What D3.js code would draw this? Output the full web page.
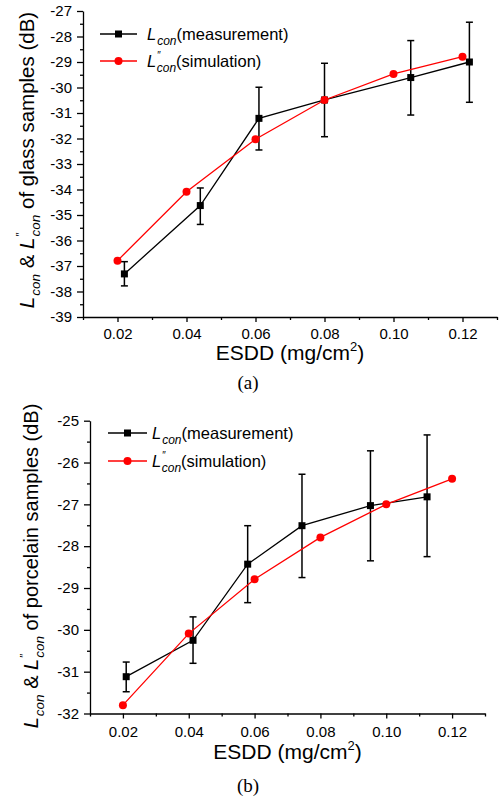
<!DOCTYPE html>
<html lang="en">
<head>
  <meta charset="UTF-8">
  <title>Lcon vs ESDD</title>
  <script src="https://d3js.org/d3.v7.min.js"></script>
  <style>
    body { margin: 0; background: #fff; }
    svg { display: block; font-family: Arial, "Liberation Sans", sans-serif; }
    .axis path, .axis line { stroke: #000; stroke-width: 1.3; }
    .axis text { font-size: 15px; fill: #000; font-family: Arial, "Liberation Sans", sans-serif; }
  </style>
</head>
<body>
  <svg width="501" height="798"></svg>

  <script>
    // (a) glass samples
    const glassMeasX  = [0.022, 0.044, 0.061, 0.080, 0.105, 0.122];
    const glassMeasY  = [-37.31, -34.63, -31.21, -30.49, -29.61, -29.00];
    const glassMeasLo = [-37.78, -35.37, -32.45, -31.93, -31.08, -30.58];
    const glassMeasHi = [-36.83, -33.94, -29.99, -29.05, -28.16, -27.44];
    const glassSimX   = [0.02, 0.04, 0.06, 0.08, 0.10, 0.12];
    const glassSimY   = [-36.79, -34.09, -32.03, -30.49, -29.47, -28.79];

    // (b) porcelain samples
    const porcMeasX  = [0.021, 0.0413, 0.0579, 0.0744, 0.0952, 0.1124];
    const porcMeasY  = [-31.12, -30.25, -28.43, -27.51, -27.03, -26.82];
    const porcMeasLo = [-31.48, -30.80, -29.35, -28.75, -28.35, -28.25];
    const porcMeasHi = [-30.77, -29.69, -27.51, -26.28, -25.72, -25.34];
    const porcSimX   = [0.02, 0.04, 0.06, 0.08, 0.10, 0.12];
    const porcSimY   = [-31.80, -30.09, -28.79, -27.79, -27.00, -26.39];

    const xTicks = [0.02, 0.04, 0.06, 0.08, 0.10, 0.12];
    const xMinor = [0.01, 0.03, 0.05, 0.07, 0.09, 0.11, 0.13];
    const glassYTicks = d3.range(-39, -26.5, 1);
    const porcYTicks = d3.range(-32, -24.5, 1);

    const svg = d3.select("svg");

    const panels = [
      {
        box: {left: 83, right: 497, top: 11, bottom: 317}, xPad: 6.5,
        yDomain: [-39, -27], yTicks: glassYTicks,
        mx: glassMeasX, my: glassMeasY, lo: glassMeasLo, hi: glassMeasHi,
        sx: glassSimX, sy: glassSimY,
        yLabel: "of glass samples (dB)", yLabelPos: [34, 160], yLabelSize: 20.5,
        legend: {x0: 100, x1: 137, tx: 147, y1: 40, y2: 67},
        title: 360, caption: "(a)", capY: 389
      },
      {
        box: {left: 90, right: 485, top: 420.7, bottom: 713.5}, xPad: 7.5,
        yDomain: [-32, -25], yTicks: porcYTicks,
        mx: porcMeasX, my: porcMeasY, lo: porcMeasLo, hi: porcMeasHi,
        sx: porcSimX, sy: porcSimY,
        yLabel: "of porcelain samples (dB)", yLabelPos: [38, 566], yLabelSize: 20,
        legend: {x0: 108, x1: 147, tx: 152, y1: 439, y2: 467},
        title: 759, caption: "(b)", capY: 792
      }
    ];

    // L_con / L''_con with sub/superscripts
    function lcon(text, prime, small, shift) {
      text.append("tspan").attr("font-style", "italic").text("L");
      if (prime) {
        text.append("tspan").attr("font-size", small - 2).attr("dx", 1).attr("dy", -shift * 1.6).text("″");
        text.append("tspan").attr("font-size", small).attr("font-style", "italic")
          .attr("dx", -4).attr("dy", shift * 2.6).text("con");
      } else {
        text.append("tspan").attr("font-size", small).attr("font-style", "italic")
          .attr("dx", 1).attr("dy", shift).text("con");
      }
      return text;
    }

    panels.forEach(p => {
      const b = p.box;
      const x = d3.scaleLinear().domain([0.01, 0.13]).range([b.left, b.right]);
      const y = d3.scaleLinear().domain(p.yDomain).range([b.bottom, b.top]);
      const g = svg.append("g");

      // axes
      g.append("g").attr("class", "axis")
        .attr("transform", `translate(0,${b.bottom})`)
        .call(d3.axisBottom(x).tickValues(xTicks).tickFormat(d3.format(".2f"))
          .tickSize(5).tickSizeOuter(0).tickPadding(p.xPad));
      g.append("g").attr("class", "axis")
        .attr("transform", `translate(0,${b.bottom})`)
        .call(d3.axisBottom(x).tickValues(xMinor).tickFormat("").tickSize(3).tickSizeOuter(0))
        .select(".domain").remove();
      g.append("g").attr("class", "axis")
        .attr("transform", `translate(${b.left},0)`)
        .call(d3.axisLeft(y).tickValues(p.yTicks).tickFormat(d3.format("d"))
          .tickSize(6).tickSizeOuter(0).tickPadding(5));
      g.append("g").attr("class", "axis")
        .attr("transform", `translate(${b.left},0)`)
        .call(d3.axisLeft(y).tickValues(p.yTicks.slice(1).map(v => v - 0.5)).tickFormat("").tickSize(3).tickSizeOuter(0))
        .select(".domain").remove();
      g.selectAll(".axis text").text(function() { return this.textContent.replace("−", "-"); });

      // measurement: error bars, line, squares
      const meas = p.mx.map((v, i) => ({x: v, y: p.my[i], lo: p.lo[i], hi: p.hi[i]}));
      const sim = p.sx.map((v, i) => ({x: v, y: p.sy[i]}));
      const line = d3.line().x(d => x(d.x)).y(d => y(d.y));

      const eb = g.append("g").attr("stroke", "#000").attr("stroke-width", 1.5);
      meas.forEach(d => {
        eb.append("line").attr("x1", x(d.x)).attr("x2", x(d.x)).attr("y1", y(d.lo)).attr("y2", y(d.hi));
        [d.lo, d.hi].forEach(v => eb.append("line")
          .attr("x1", x(d.x) - 3.5).attr("x2", x(d.x) + 3.5).attr("y1", y(v)).attr("y2", y(v)));
      });
      g.append("path").datum(meas).attr("d", line)
        .attr("fill", "none").attr("stroke", "#000").attr("stroke-width", 1.3);
      g.selectAll(".sq").data(meas).join("rect")
        .attr("x", d => x(d.x) - 3.5).attr("y", d => y(d.y) - 3.5)
        .attr("width", 7).attr("height", 7).attr("fill", "#000");

      // simulation
      g.append("path").datum(sim).attr("d", line)
        .attr("fill", "none").attr("stroke", "#ff0000").attr("stroke-width", 1.3);
      g.selectAll(".dot").data(sim).join("circle")
        .attr("cx", d => x(d.x)).attr("cy", d => y(d.y)).attr("r", 4).attr("fill", "#ff0000");

      // legend
      const L = p.legend;
      [[L.y1, "#000", "sq", false, "(measurement)"], [L.y2, "#ff0000", "dot", true, "(simulation)"]].forEach(([ty, col, mk, prime, txt]) => {
        const cy = ty - 6;
        g.append("line").attr("x1", L.x0).attr("x2", L.x1).attr("y1", cy).attr("y2", cy)
          .attr("stroke", col).attr("stroke-width", 1.3);
        const mxp = (L.x0 + L.x1) / 2;
        if (mk === "sq") g.append("rect").attr("x", mxp - 3.5).attr("y", cy - 3.5).attr("width", 7).attr("height", 7).attr("fill", col);
        else g.append("circle").attr("cx", mxp).attr("cy", cy).attr("r", 4).attr("fill", col);
        const t = g.append("text").attr("x", L.tx).attr("y", ty).attr("font-size", 16.5).attr("fill", "#000");
        lcon(t, prime, 12, 5);
        t.append("tspan").attr("dy", -5).text(txt);
      });

      // y label
      const yl = g.append("text")
        .attr("transform", `translate(${p.yLabelPos[0]},${p.yLabelPos[1]}) rotate(-90)`)
        .attr("text-anchor", "middle").attr("font-size", p.yLabelSize).attr("fill", "#000");
      lcon(yl, false, 13.5, 6);
      yl.append("tspan").attr("dy", -6).text(" & ");
      lcon(yl, true, 13.5, 6);
      yl.append("tspan").attr("dy", -6).text(" " + p.yLabel);

      // x title
      const xt = g.append("text").attr("x", (b.left + b.right) / 2).attr("y", p.title)
        .attr("text-anchor", "middle").attr("font-size", 21).attr("fill", "#000");
      xt.append("tspan").text("ESDD (mg/cm");
      xt.append("tspan").attr("font-size", 13).attr("dy", -9).text("2");
      xt.append("tspan").attr("dy", 9).text(")");

      // caption
      g.append("text").attr("x", 248).attr("y", p.capY).attr("text-anchor", "middle")
        .attr("font-family", "'Liberation Serif', 'Times New Roman', serif").attr("font-size", 19)
        .text(p.caption);
    });
  </script>
</body>
</html>
